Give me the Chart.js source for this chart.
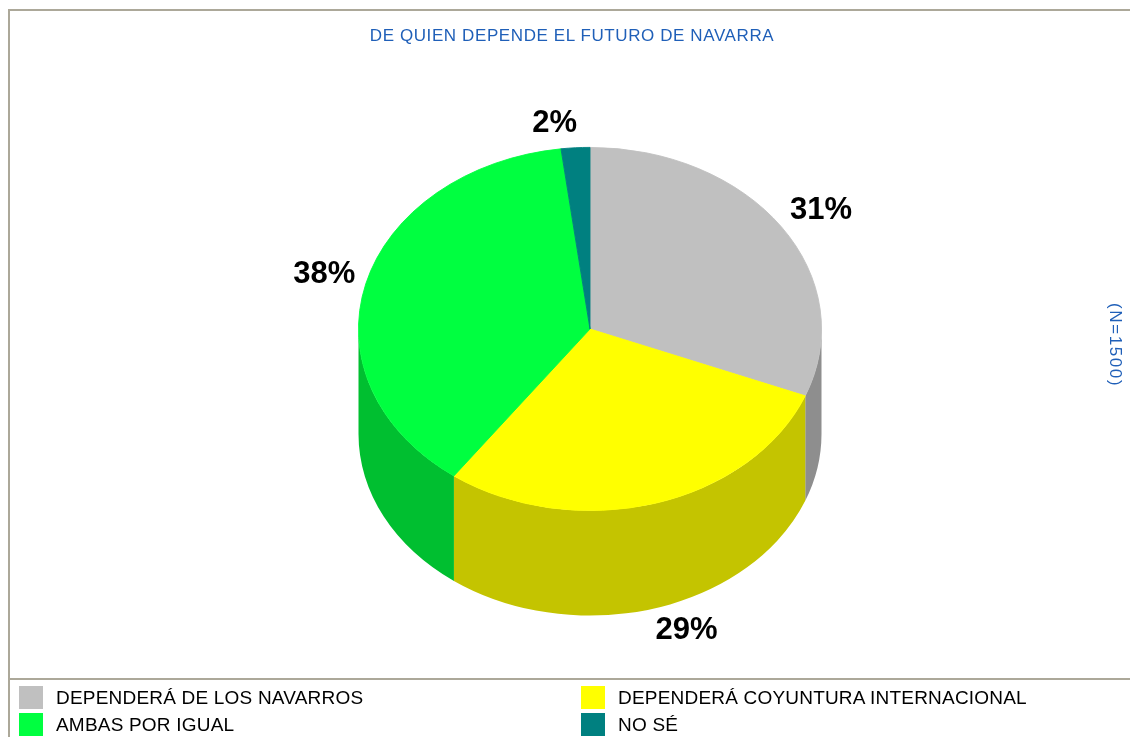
<!DOCTYPE html>
<html>
<head>
<meta charset="utf-8">
<script src="https://cdn.jsdelivr.net/npm/chart.js@4/dist/chart.umd.min.js"></script>
<style>
  html, body { margin: 0; padding: 0; background: #fff; }
  #wrap { position: relative; width: 1130px; height: 737px; overflow: hidden; font-family: "Liberation Sans", Arial, sans-serif; }
  #chart { position: absolute; left: 0; top: 0; }
  .line { position: absolute; background: #aca899; }
  #title { position: absolute; left: 0; width: 1144px; top: 26px; text-align: center; color: #1f5fb8; font-size: 17px; letter-spacing: 0.6px; }
  #nlabel { position: absolute; left: 1105px; top: 303px; color: #1f5fb8; font-size: 17px; letter-spacing: 1.6px; writing-mode: vertical-rl; }
  .leg { position: absolute; font-size: 19px; color: #000; height: 24px; line-height: 24px; white-space: nowrap; letter-spacing: 0.2px; }
  .leg span { position: absolute; left: 0; top: 0; width: 24px; height: 23px; }
  .leg b { font-weight: normal; position: absolute; left: 37px; top: 0; }
</style>
</head>
<body>
<div id="wrap">
  <div class="line" style="left:8px; top:9px; width:1122px; height:2px;"></div>
  <div class="line" style="left:8px; top:9px; width:2px; height:728px;"></div>
  <div class="line" style="left:8px; top:678px; width:1122px; height:2px;"></div>
  <canvas id="chart" width="1130" height="737"></canvas>
  <div id="title">DE QUIEN DEPENDE EL FUTURO DE NAVARRA</div>
  <div id="nlabel">(N=1500)</div>
  <div id="legend"></div>
</div>
<script>
const categories = ['DEPENDERÁ DE LOS NAVARROS', 'DEPENDERÁ COYUNTURA INTERNACIONAL', 'AMBAS POR IGUAL', 'NO SÉ']
const values = [31, 29, 38, 2]
const topColors = ['#c0c0c0', '#ffff00', '#00ff40', '#008080']
const sideColors = ['#8e8e8e', '#c4c400', '#00bf30', '#006060']

// legend, two columns, reading order as in the original
const legend = document.getElementById('legend')
categories.forEach((name, i) => {
  const item = document.createElement('div')
  item.className = 'leg'
  item.style.left = (i % 2 === 0 ? 19 : 581) + 'px'
  item.style.top = (686 + Math.floor(i / 2) * 27) + 'px'
  item.innerHTML = '<span style="background:' + topColors[i] + '"></span><b>' + name + '</b>'
  legend.appendChild(item)
})

const squash = 182 / 232
const depth = 105

const pie3d = {
  id: 'pie3d',
  beforeDatasetsDraw (chart) {
    const ctx = chart.ctx
    const arcs = chart.getDatasetMeta(0).data
    ctx.save()
    arcs.forEach((arc, i) => {
      const { x, y, outerRadius, startAngle, endAngle } = arc.getProps(['x', 'y', 'outerRadius', 'startAngle', 'endAngle'], true)
      const a0 = Math.max(startAngle, 0)
      const a1 = Math.min(endAngle, Math.PI)
      if (a1 <= a0) return
      ctx.beginPath()
      ctx.ellipse(x, y, outerRadius, outerRadius * squash, 0, a0, a1, false)
      ctx.ellipse(x, y + depth, outerRadius, outerRadius * squash, 0, a1, a0, true)
      ctx.closePath()
      ctx.fillStyle = sideColors[i]
      ctx.fill()
    })
    ctx.restore()
    // squash the top face into an ellipse
    const c = arcs[0]
    ctx.save()
    ctx.translate(c.x, c.y)
    ctx.scale(1, squash)
    ctx.translate(-c.x, -c.y)
  },
  afterDatasetsDraw (chart) {
    const ctx = chart.ctx
    ctx.restore()
    const arcs = chart.getDatasetMeta(0).data
    ctx.save()
    ctx.font = 'bold 31px "Liberation Sans", Arial, sans-serif'
    ctx.fillStyle = '#000'
    ctx.textAlign = 'center'
    ctx.textBaseline = 'middle'
    arcs.forEach((arc, i) => {
      const { x, y, outerRadius, startAngle, endAngle } = arc.getProps(['x', 'y', 'outerRadius', 'startAngle', 'endAngle'], true)
      const mid = (startAngle + endAngle) / 2
      const cos = Math.cos(mid)
      const sin = Math.sin(mid)
      const text = values[i] + '%'
      const w = ctx.measureText(text).width
      const lx = x + (outerRadius + 42) * cos + Math.sign(cos) * (w / 2 - 3) * (1 - Math.abs(cos))
      const ly = y + (outerRadius * squash + 24) * sin + (sin > 0 ? depth : 0) - 4 * Math.abs(cos)
      ctx.fillText(text, lx, ly)
    })
    ctx.restore()
  }
}

new Chart(document.getElementById('chart'), {
  type: 'pie',
  data: {
    labels: categories,
    datasets: [{
      data: values,
      backgroundColor: topColors,
      borderColor: topColors,
      borderWidth: 1,
      clip: false
    }]
  },
  options: {
    responsive: false,
    animation: false,
    layout: { padding: { left: 358, top: 97, right: 308, bottom: 176 } },
    plugins: {
      legend: { display: false },
      tooltip: { enabled: false }
    }
  },
  plugins: [pie3d]
})
</script>
</body>
</html>
